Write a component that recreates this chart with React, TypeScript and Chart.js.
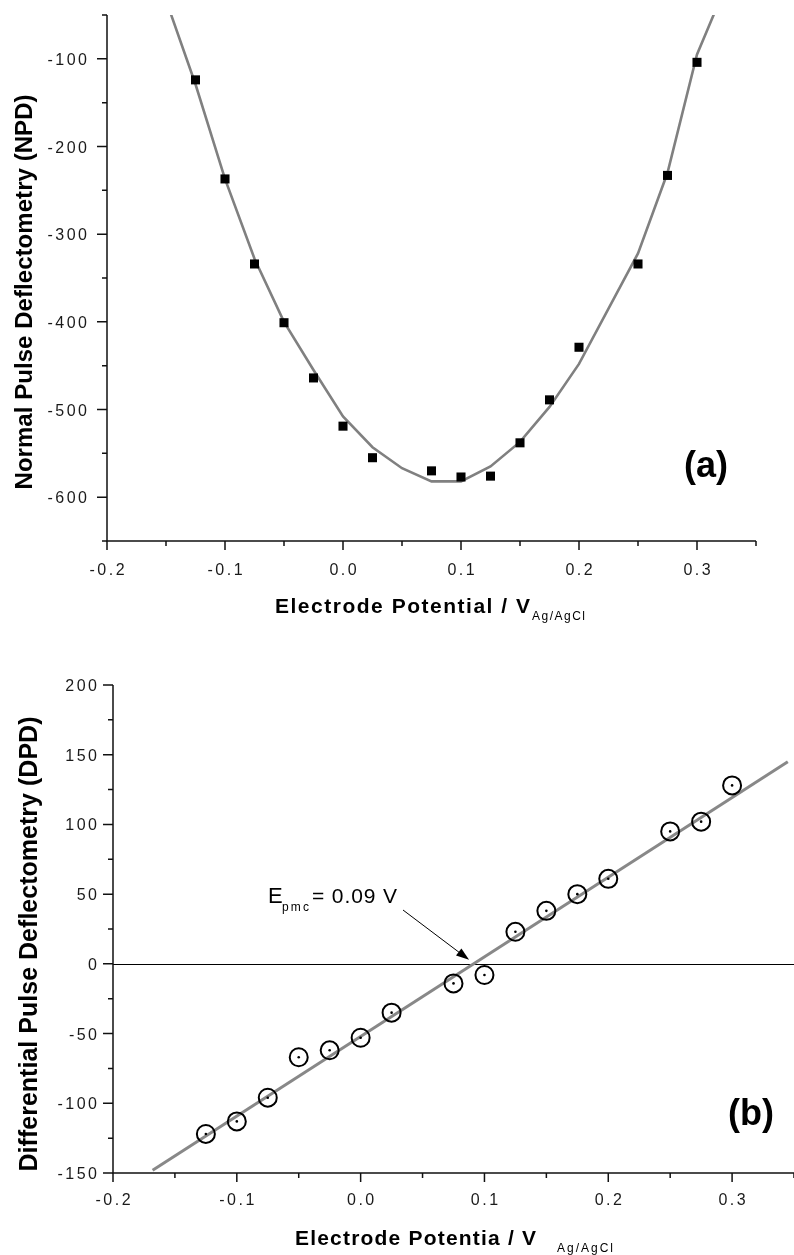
import React, { useEffect, useRef } from 'react';
import { Chart, registerables } from 'chart.js';

Chart.register(...registerables);

// ---------------- data ----------------
const potentials = [-0.125, -0.1, -0.075, -0.05, -0.025, 0, 0.025, 0.075, 0.1, 0.125, 0.15, 0.175, 0.2, 0.25, 0.275, 0.3];
const npdValues = [-124, -237, -334, -401, -464, -519, -555, -570, -577, -576, -538, -489, -429, -334, -233, -104];
const npdFitPotentials = [-0.15, -0.125, -0.1, -0.075, -0.05, -0.025, 0, 0.025, 0.05, 0.075, 0.1, 0.125, 0.15, 0.175, 0.2, 0.225, 0.25, 0.275, 0.3, 0.325];
const npdFitValues = [-33, -129, -237, -328, -400, -455, -508, -543, -567, -582, -582, -565, -537, -497, -448, -385, -322, -230, -95, -15];
const dpdValues = [-122, -113, -96, -67, -62, -53, -35, -14, -8, 23, 38, 50, 61, 95, 102, 128];
const dpdFitPotentials = [-0.168, 0.345];
const dpdFitValues = [-148, 145];
const epmc = 0.09;

const xMajorTicks = [-0.2, -0.1, 0, 0.1, 0.2, 0.3];
const xTickLabels = ['-0.2', '-0.1', '0.0', '0.1', '0.2', '0.3'];
const xMinorTicks = [-0.15, -0.05, 0.05, 0.15, 0.25, 0.35];
const npdMajorTicks = [-100, -200, -300, -400, -500, -600];
const npdTickLabels = ['-100', '-200', '-300', '-400', '-500', '-600'];
const npdMinorTicks = [-50, -150, -250, -350, -450, -550, -650];
const dpdMajorTicks = [-150, -100, -50, 0, 50, 100, 150, 200];
const dpdTickLabels = ['-150', '-100', '-50', '0', '50', '100', '150', '200'];
const dpdMinorTicks = [-125, -75, -25, 25, 75, 125, 175];

const FONT = '"Liberation Sans", Arial, Helvetica, sans-serif';

// ---------------- text helpers ----------------
function natWidth(ctx: CanvasRenderingContext2D, text: string) {
  let w = 0;
  for (const ch of text) w += ctx.measureText(ch).width;
  return w;
}
function drawSpaced(ctx: CanvasRenderingContext2D, text: string, x: number, y: number, spacing: number, align: string) {
  const w = natWidth(ctx, text) + spacing * (text.length - 1);
  let cx = align === 'center' ? x - w / 2 : align === 'right' ? x - w : x;
  ctx.textAlign = 'left';
  for (const ch of text) {
    ctx.fillText(ch, cx, y);
    cx += ctx.measureText(ch).width + spacing;
  }
  return w;
}
function drawToWidth(ctx: CanvasRenderingContext2D, text: string, x: number, y: number, width: number, align: string) {
  const nat = natWidth(ctx, text);
  const spacing = text.length > 1 ? (width - nat) / (text.length - 1) : 0;
  return drawSpaced(ctx, text, x, y, spacing, align);
}

type AxisCfg = {
  yMajor: number[];
  yLabels: string[];
  yMinor: number[];
  xLabelBaseline: number;
  yLabelRight: number;
  xTitle: string;
  xTitleLeft: number;
  xTitleBaseline: number;
  xTitleWidth: number;
  subLeft: number;
  subBaseline: number;
  subWidth: number;
  yTitle: string;
  yTitleCx: number;
  yTitleCy: number;
  yTitleWidth: number;
  yTitleSize: number;
  panel: string;
  panelCx: number;
  panelCy: number;
  zeroLine: boolean;
  annotation: boolean;
};

function makeAxesPlugin(cfg: AxisCfg) {
  return {
    id: 'customAxes',
    beforeDatasetsDraw(chart: any) {
      if (!cfg.zeroLine) return;
      const ctx = chart.ctx as CanvasRenderingContext2D;
      const { left, right } = chart.chartArea;
      const y0 = Math.round(chart.scales.y.getPixelForValue(0)) + 0.5;
      ctx.save();
      ctx.strokeStyle = '#000';
      ctx.lineWidth = 1.2;
      ctx.beginPath();
      ctx.moveTo(left, y0);
      ctx.lineTo(right, y0);
      ctx.stroke();
      ctx.restore();
    },
    afterDraw(chart: any) {
      const ctx = chart.ctx as CanvasRenderingContext2D;
      const { left, right, top, bottom } = chart.chartArea;
      const xs = chart.scales.x;
      const ys = chart.scales.y;
      ctx.save();
      ctx.strokeStyle = '#111';
      ctx.lineWidth = 1.5;
      // axis lines
      ctx.beginPath();
      ctx.moveTo(left, top);
      ctx.lineTo(left, bottom);
      ctx.lineTo(right, bottom);
      ctx.stroke();
      // x ticks
      ctx.beginPath();
      xMajorTicks.forEach((v) => {
        const px = xs.getPixelForValue(v);
        ctx.moveTo(px, bottom);
        ctx.lineTo(px, bottom + 9);
      });
      xMinorTicks.forEach((v) => {
        const px = xs.getPixelForValue(v);
        ctx.moveTo(px, bottom);
        ctx.lineTo(px, bottom + 5);
      });
      // y ticks
      cfg.yMajor.forEach((v) => {
        const py = ys.getPixelForValue(v);
        ctx.moveTo(left, py);
        ctx.lineTo(left - 10, py);
      });
      cfg.yMinor.forEach((v) => {
        const py = ys.getPixelForValue(v);
        ctx.moveTo(left, py);
        ctx.lineTo(left - 5, py);
      });
      ctx.stroke();

      // tick labels
      ctx.fillStyle = '#1a1a1a';
      ctx.textBaseline = 'alphabetic';
      ctx.font = `16px ${FONT}`;
      xMajorTicks.forEach((v, i) => {
        drawSpaced(ctx, xTickLabels[i], xs.getPixelForValue(v), cfg.xLabelBaseline, 2.5, 'center');
      });
      cfg.yMajor.forEach((v, i) => {
        drawSpaced(ctx, cfg.yLabels[i], cfg.yLabelRight, ys.getPixelForValue(v) + 6, 2.5, 'right');
      });

      // x title with subscript
      ctx.fillStyle = '#000';
      ctx.font = `bold 21px ${FONT}`;
      drawToWidth(ctx, cfg.xTitle, cfg.xTitleLeft, cfg.xTitleBaseline, cfg.xTitleWidth, 'left');
      ctx.font = `12px ${FONT}`;
      drawToWidth(ctx, 'Ag/AgCl', cfg.subLeft, cfg.subBaseline, cfg.subWidth, 'left');

      // y title rotated
      ctx.save();
      ctx.translate(cfg.yTitleCx, cfg.yTitleCy);
      ctx.rotate(-Math.PI / 2);
      ctx.font = `bold ${cfg.yTitleSize}px ${FONT}`;
      ctx.textBaseline = 'middle';
      drawToWidth(ctx, cfg.yTitle, 0, 0, cfg.yTitleWidth, 'center');
      ctx.restore();

      // panel label
      ctx.font = `bold 36px ${FONT}`;
      ctx.textBaseline = 'middle';
      drawSpaced(ctx, cfg.panel, cfg.panelCx, cfg.panelCy, 0, 'center');

      // annotation
      if (cfg.annotation) {
        ctx.textBaseline = 'alphabetic';
        ctx.font = `22px ${FONT}`;
        drawSpaced(ctx, 'E', 268, 263, 0, 'left');
        ctx.font = `12px ${FONT}`;
        drawToWidth(ctx, 'pmc', 282, 271, 27, 'left');
        ctx.font = `21px ${FONT}`;
        drawToWidth(ctx, '= ' + epmc.toFixed(2) + ' V', 312, 263, 85, 'left');

        const tipX = xs.getPixelForValue(epmc) - 3;
        const tipY = ys.getPixelForValue(0) - 4;
        const sx = 403;
        const sy = 270;
        const ang = Math.atan2(tipY - sy, tipX - sx);
        const hl = 13;
        const hw = 4.5;
        ctx.strokeStyle = '#000';
        ctx.lineWidth = 1;
        ctx.beginPath();
        ctx.moveTo(sx, sy);
        ctx.lineTo(tipX - Math.cos(ang) * hl * 0.8, tipY - Math.sin(ang) * hl * 0.8);
        ctx.stroke();
        ctx.fillStyle = '#000';
        ctx.beginPath();
        ctx.moveTo(tipX, tipY);
        ctx.lineTo(tipX - Math.cos(ang) * hl + Math.sin(ang) * hw, tipY - Math.sin(ang) * hl - Math.cos(ang) * hw);
        ctx.lineTo(tipX - Math.cos(ang) * hl - Math.sin(ang) * hw, tipY - Math.sin(ang) * hl + Math.cos(ang) * hw);
        ctx.closePath();
        ctx.fill();
      }
      ctx.restore();
    },
  };
}

function baseOptions(padding: any, yMin: number, yMax: number) {
  return {
    responsive: false,
    maintainAspectRatio: false,
    animation: false as const,
    devicePixelRatio: 1,
    events: [],
    layout: { padding, autoPadding: false },
    plugins: { legend: { display: false }, tooltip: { enabled: false }, title: { display: false } },
    scales: {
      x: { type: 'linear' as const, display: false, min: -0.2, max: 0.35 },
      y: { type: 'linear' as const, display: false, min: yMin, max: yMax },
    },
  };
}

function configA(): any {
  return {
    type: 'scatter',
    data: {
      datasets: [
        {
          data: potentials.map((x, i) => ({ x, y: npdValues[i] })),
          pointStyle: 'rect',
          pointRadius: 6.4,
          backgroundColor: '#000',
          borderColor: '#000',
          borderWidth: 0,
          showLine: false,
        },
        {
          data: npdFitPotentials.map((x, i) => ({ x, y: npdFitValues[i] })),
          showLine: true,
          pointRadius: 0,
          borderColor: '#808080',
          borderWidth: 2.6,
          tension: 0,
          fill: false,
        },
      ],
    },
    options: baseOptions({ left: 107, top: 15, right: 38, bottom: 99 }, -650, -50),
    plugins: [
      makeAxesPlugin({
        yMajor: npdMajorTicks,
        yLabels: npdTickLabels,
        yMinor: npdMinorTicks,
        xLabelBaseline: 575,
        yLabelRight: 87,
        xTitle: 'Electrode Potential / V',
        xTitleLeft: 275,
        xTitleBaseline: 613,
        xTitleWidth: 255,
        subLeft: 532,
        subBaseline: 620,
        subWidth: 53,
        yTitle: 'Normal Pulse Deflectometry (NPD)',
        yTitleCx: 25,
        yTitleCy: 292,
        yTitleWidth: 395,
        yTitleSize: 24,
        panel: '(a)',
        panelCx: 706,
        panelCy: 467,
        zeroLine: false,
        annotation: false,
      }),
    ],
  };
}

function configB(): any {
  return {
    type: 'scatter',
    data: {
      datasets: [
        {
          data: potentials.map((x, i) => ({ x, y: dpdValues[i] })),
          pointStyle: 'circle',
          pointRadius: 1.3,
          backgroundColor: '#000',
          borderWidth: 0,
          showLine: false,
        },
        {
          data: potentials.map((x, i) => ({ x, y: dpdValues[i] })),
          pointStyle: 'circle',
          pointRadius: 9,
          backgroundColor: 'rgba(0,0,0,0)',
          borderColor: '#000',
          borderWidth: 2,
          showLine: false,
        },
        {
          data: dpdFitPotentials.map((x, i) => ({ x, y: dpdFitValues[i] })),
          showLine: true,
          pointRadius: 0,
          borderColor: '#888888',
          borderWidth: 3,
          tension: 0,
          fill: false,
        },
      ],
    },
    options: baseOptions({ left: 113, top: 45, right: 0, bottom: 82 }, -150, 200),
    plugins: [
      makeAxesPlugin({
        yMajor: dpdMajorTicks,
        yLabels: dpdTickLabels,
        yMinor: dpdMinorTicks,
        xLabelBaseline: 565,
        yLabelRight: 97,
        xTitle: 'Electrode Potentia / V',
        xTitleLeft: 295,
        xTitleBaseline: 605,
        xTitleWidth: 241,
        subLeft: 557,
        subBaseline: 612,
        subWidth: 56,
        yTitle: 'Differential Pulse Deflectometry (DPD)',
        yTitleCx: 30,
        yTitleCy: 304,
        yTitleWidth: 455,
        yTitleSize: 25,
        panel: '(b)',
        panelCx: 751,
        panelCy: 475,
        zeroLine: true,
        annotation: true,
      }),
    ],
  };
}

function ChartCanvas({ make, width, height, top }: { make: () => any; width: number; height: number; top: number }) {
  const ref = useRef<HTMLCanvasElement>(null);
  useEffect(() => {
    const chart = new Chart(ref.current as HTMLCanvasElement, make());
    return () => chart.destroy();
  }, []);
  return (
    <canvas
      ref={ref}
      width={width}
      height={height}
      style={{ position: 'absolute', left: 0, top, width, height, display: 'block' }}
    />
  );
}

export default function App() {
  return (
    <div style={{ position: 'absolute', left: 0, top: 0, width: 794, height: 1255, background: '#fff', overflow: 'hidden' }}>
      <ChartCanvas make={configA} width={794} height={640} top={0} />
      <ChartCanvas make={configB} width={794} height={615} top={640} />
    </div>
  );
}
